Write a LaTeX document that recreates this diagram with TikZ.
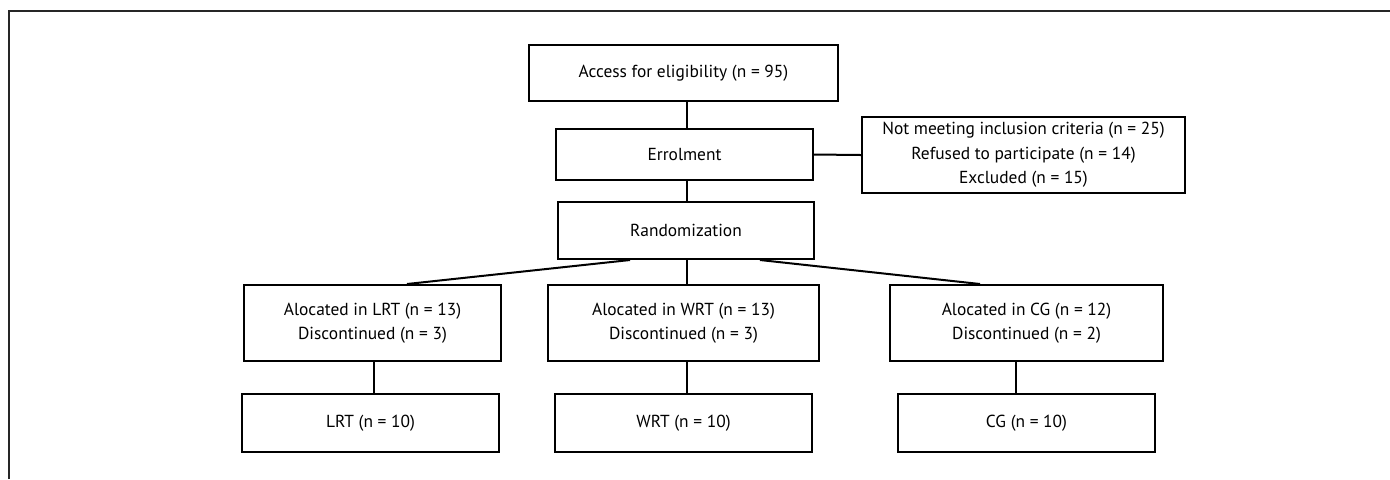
\documentclass[tikz,border=0pt]{standalone}
\usepackage{fontspec}
\setmainfont{PT Sans}
\begin{document}
\begin{tikzpicture}[x=0.5pt,y=-0.5pt,
  box/.style={draw=black,line width=1pt,align=center,inner sep=0pt,
    font=\fontsize{8.7}{12.25}\selectfont},
  link/.style={draw=black,line width=1pt}]
\useasboundingbox (0,0) rectangle (1390,479);
\draw[line width=0.9pt,black!85] (9,479) -- (9,11) -- (1390,11);
\node[box,minimum width=154.5pt,minimum height=28pt] (acc) at (683.5,73) {Access for eligibility (n = 95)};
\node[box,minimum width=128.5pt,minimum height=25.5pt] (err) at (684.5,154.5) {Errolment};
\node[box,minimum width=161.5pt,minimum height=38pt] (exc) at (1023.5,155) {Not meeting inclusion criteria (n = 25)\\Refused to participate (n = 14)\\Excluded (n = 15)};
\node[box,minimum width=128pt,minimum height=28.5pt] (ran) at (686,230.5) {Randomization};
\node[box,minimum width=128.5pt,minimum height=38pt] (l1) at (372.5,323) {Alocated in LRT (n = 13)\\Discontinued (n = 3)};
\node[box,minimum width=135.5pt,minimum height=38pt] (w1) at (683.5,323) {Alocated in WRT (n = 13)\\Discontinued (n = 3)};
\node[box,minimum width=136.5pt,minimum height=38pt] (c1) at (1026.5,323) {Alocated in CG (n = 12)\\Discontinued (n = 2)};
\node[box,minimum width=128.5pt,minimum height=29pt] (l2) at (370.5,423) {LRT (n = 10)};
\node[box,minimum width=128.5pt,minimum height=29pt] (w2) at (683.5,423) {WRT (n = 10)};
\node[box,minimum width=128.5pt,minimum height=29pt] (c2) at (1026.5,423) {CG (n = 10)};
\coordinate (mx) at (687,0);
\coordinate (lx) at (374,0);
\coordinate (cx) at (1016,0);
\coordinate (rl) at (630,0);
\coordinate (rr) at (760,0);
\coordinate (tl) at (407,0);
\coordinate (tr) at (980,0);
\draw[link] (acc.south -| mx) -- (err.north -| mx);
\draw[link] (err.south -| mx) -- (ran.north -| mx);
\draw[link] (err.east) -- (exc.west);
\draw[link] (ran.south -| mx) -- (w1.north -| mx);
\draw[link] (ran.south -| rl) -- (l1.north -| tl);
\draw[link] (ran.south -| rr) -- (c1.north -| tr);
\draw[link] (l1.south -| lx) -- (l2.north -| lx);
\draw[link] (w1.south -| mx) -- (w2.north -| mx);
\draw[link] (c1.south -| cx) -- (c2.north -| cx);
\end{tikzpicture}
\end{document}
